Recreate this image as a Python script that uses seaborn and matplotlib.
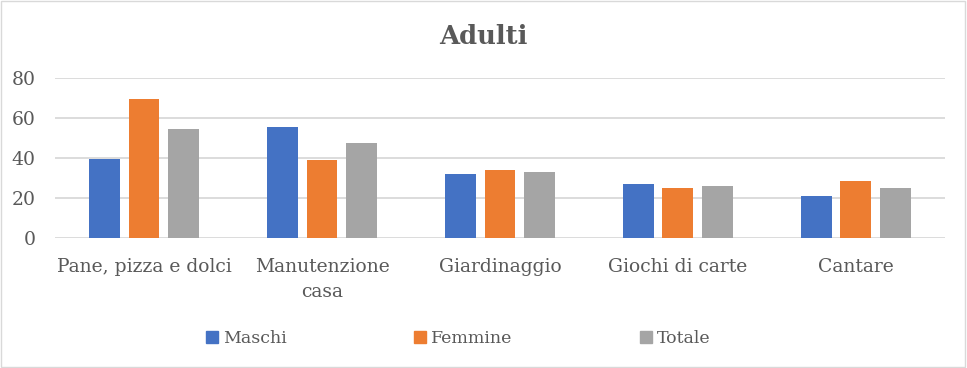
import pandas as pd
import matplotlib.pyplot as plt
import seaborn as sns
from matplotlib.patches import Rectangle

# --- DATA ---
categorie = ["Pane, pizza e dolci", "Manutenzione\ncasa", "Giardinaggio", "Giochi di carte", "Cantare"]
maschi = [39.5, 55.4, 32, 27, 21]
femmine = [69.5, 38.9, 34, 25, 28.5]
totale = [54.5, 47.4, 33, 26, 25]
serie = ["Maschi", "Femmine", "Totale"]
colori = ["#4472C4", "#ED7D31", "#A5A5A5"]

df = pd.DataFrame({
    "categoria": categorie * 3,
    "valore": maschi + femmine + totale,
    "serie": [s for s in serie for _ in categorie],
})

sns.set_theme(style="white")
plt.rcParams['font.family'] = ['DejaVu Serif']
testo = "#595959"

fig = plt.figure(figsize=(9.67, 3.68), dpi=100)
ax = fig.add_axes([0.057, 0.353, 0.92, 0.435])

sns.barplot(data=df, x="categoria", y="valore", hue="serie", palette=colori,
            width=0.666, gap=0.22, ax=ax, legend=False, saturation=1, linewidth=0)

ax.set_ylim(0, 80)
ax.set_xlim(-0.5, 4.5)
ax.set_yticks([0, 20, 40, 60, 80])
ax.yaxis.grid(True, color="#D9D9D9", linewidth=1.3)
ax.set_axisbelow(True)
for s in ax.spines.values():
    s.set_visible(False)
ax.tick_params(axis="y", length=0, labelsize=13.5, colors=testo, pad=14)
ax.tick_params(axis="x", length=0, labelsize=13.5, colors=testo, pad=14)
for lbl in ax.get_xticklabels():
    lbl.set_linespacing(1.5)
ax.set_xlabel("")
ax.set_ylabel("")

fig.suptitle("Adulti", x=0.5, y=0.935, fontsize=18.5, fontweight="bold", color=testo)

handles = [Rectangle((0, 0), 1, 1, color=c) for c in colori]
fig.legend(handles, serie, loc="center", bbox_to_anchor=(0.474, 0.08), ncol=3,
           frameon=False, fontsize=12.5, labelcolor=testo, columnspacing=7.3,
           handlelength=0.7, handleheight=0.7, handletextpad=0.3)

# cornice del grafico
fig.patches.append(Rectangle((0.001, 0.002), 0.997, 0.995, transform=fig.transFigure,
                             fill=False, edgecolor="#D9D9D9", linewidth=1))

plt.savefig("out.png", dpi=100)
